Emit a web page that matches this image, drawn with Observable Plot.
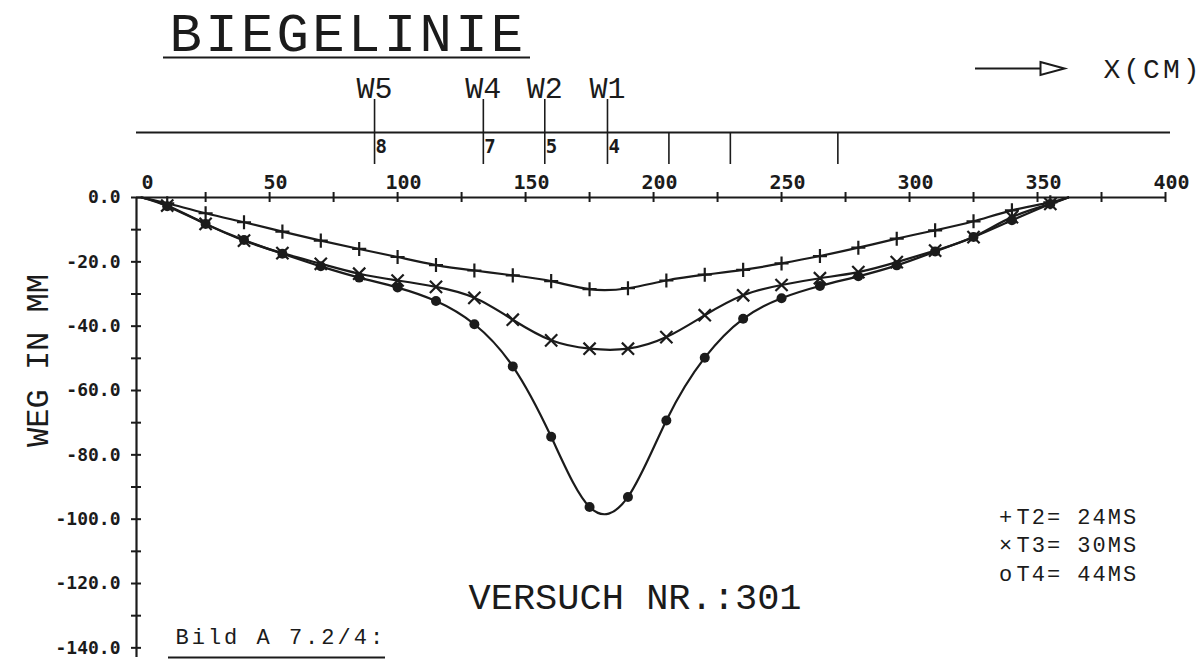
<!DOCTYPE html>
<html>
<head>
<meta charset="utf-8">
<script src="https://cdn.jsdelivr.net/npm/d3@7"></script>
<script src="https://cdn.jsdelivr.net/npm/@observablehq/plot@0.6"></script>
<style>
  html, body { margin: 0; padding: 0; background: #fff; }
  #chart { width: 1203px; height: 660px; overflow: hidden; }
</style>
</head>
<body>
<div id="chart"></div>
<script>
// ---------------- data ----------------
const titleText = "BIEGELINIE";
const xUnitText = "X(CM)";
const yLabelText = "WEG IN MM";
const testText = "VERSUCH NR.:301";
const figureText = "Bild A 7.2/4:";

// measuring positions along the beam (cm)
const xPos = [10, 25, 40, 55, 70, 85, 100, 115, 130, 145, 160, 175,
              190, 205, 220, 235, 250, 265, 280, 295, 310, 325, 340, 355];
// support points (start / end of the deflection line)
const xStart = 0;
const xEnd = 362;

// deflection (mm)
const t2 = [-1.8, -4.9, -7.7, -10.6, -13.4, -16.0, -18.5, -21.0, -22.7, -24.2, -26.0, -28.5,
            -28.2, -25.8, -24.0, -22.5, -20.5, -18.2, -15.6, -12.8, -10.2, -7.4, -4.0, -1.5];
const t3 = [-2.5, -8.2, -13.4, -17.3, -20.6, -23.7, -25.8, -27.8, -31.2, -38.0, -44.4, -47.0,
            -47.0, -43.4, -36.6, -30.4, -27.2, -25.1, -23.2, -20.1, -16.5, -12.3, -6.1, -2.0];
const t4 = [-2.7, -8.2, -13.2, -17.5, -21.4, -24.9, -28.0, -32.2, -39.4, -52.5, -74.4, -96.2,
            -93.1, -69.3, -49.8, -37.7, -31.3, -27.5, -24.5, -21.1, -16.8, -12.3, -7.1, -2.0];

const seriesNames = ["T2= 24MS", "T3= 30MS", "T4= 44MS"];
const legendSymbols = ["+", "×", "o"];

// axes
const xTicks = [25, 50, 75, 100, 125, 150, 175, 200, 225, 250, 275, 300, 325, 350, 375, 400];
const xTickLabels = [0, 50, 100, 150, 200, 250, 300, 350, 400];
const yTicks = [0, -10, -20, -30, -40, -50, -60, -70, -80, -90, -100, -110, -120, -130, -140];
const yTickLabels = [0, -20, -40, -60, -80, -100, -120, -140];

// sensors (top scale)
const sensorNames = ["W5", "W4", "W2", "W1"];
const sensorX = [91, 133.5, 157.5, 182];
const sensorChannels = ["8", "7", "5", "4"];
const extraSensorX = [206, 230, 272];

// ---------------- table ----------------
const seriesValues = [t2, t3, t4];
const rows = [];
seriesValues.forEach((vals, s) => {
  rows.push({series: seriesNames[s], x: xStart, y: 0, marker: false});
  xPos.forEach((x, i) => rows.push({series: seriesNames[s], x, y: vals[i], marker: true}));
  rows.push({series: seriesNames[s], x: xEnd, y: 0, marker: false});
});
const markersOf = s => rows.filter(d => d.marker && d.series === seriesNames[s]);

// ---------------- layout ----------------
const W = 1203, H = 660;
const mL = 136, mR = 38, mT = 197, mB = 3;
const frameW = W - mL - mR, frameH = H - mT - mB;
const ink = "#1b1b1b";
const plotFont = "'Liberation Mono', 'DejaVu Sans Mono', monospace";
const tickFont = "'DejaVu Sans Mono', monospace";

const arrowHead = {
  draw(ctx) { ctx.moveTo(-12, -6.5); ctx.lineTo(12, 0); ctx.lineTo(-12, 6.5); ctx.closePath(); }
};

const ann = (text, o) => Plot.text([text], {
  frameAnchor: "top-left", text: d => d, lineAnchor: "bottom", textAnchor: "start",
  fill: ink, fontFamily: plotFont, ...o
});

const chart = Plot.plot({
  width: W, height: H,
  marginLeft: mL, marginRight: mR, marginTop: mT, marginBottom: mB,
  x: {domain: [-2, 400], axis: null},
  y: {domain: [-143, 0], axis: null},
  style: {background: "white", color: ink, overflow: "visible"},
  marks: [
    // main axes
    Plot.ruleY([0], {stroke: ink, strokeWidth: 2.2}),
    Plot.ruleX([-2], {stroke: ink, strokeWidth: 2.2}),
    Plot.ruleX(xTicks, {x: d => d, stroke: ink, strokeWidth: 2, insetTop: -5, insetBottom: frameH - 5}),
    Plot.ruleY(yTicks, {y: d => d, stroke: ink, strokeWidth: 2, insetLeft: -5, insetRight: frameW - 5}),
    Plot.text(xTickLabels, {x: d => d, text: d => String(d), frameAnchor: "top", lineAnchor: "bottom",
      dy: -9, dx: 6, fontFamily: tickFont, fontWeight: "bold", fontSize: 20, fill: ink}),
    Plot.text(yTickLabels, {y: d => d, text: d => d.toFixed(1), frameAnchor: "left", textAnchor: "end",
      dx: -16, fontFamily: tickFont, fontWeight: "bold", fontSize: 18, fill: ink}),

    // sensor scale at the top
    Plot.ruleY([0], {dy: -65, insetRight: -5, stroke: ink, strokeWidth: 2}),
    Plot.ruleX(sensorX, {x: d => d, insetTop: -98, insetBottom: frameH + 33, stroke: ink, strokeWidth: 1.6}),
    Plot.ruleX(extraSensorX, {x: d => d, insetTop: -65, insetBottom: frameH + 33, stroke: ink, strokeWidth: 1.6}),
    Plot.text(sensorNames, {x: (d, i) => sensorX[i], text: d => d, frameAnchor: "top", lineAnchor: "bottom",
      dy: -100, fontFamily: plotFont, fontSize: 30, fill: ink}),
    Plot.text(sensorChannels, {x: (d, i) => sensorX[i], text: d => d, frameAnchor: "top", lineAnchor: "bottom",
      textAnchor: "start", dx: 1, dy: -45, fontFamily: tickFont, fontWeight: "bold", fontSize: 19, fill: ink}),

    // deflection lines
    Plot.line(rows, {x: "x", y: "y", z: "series", curve: "natural", stroke: ink, strokeWidth: 2.2}),
    Plot.dot(markersOf(0), {x: "x", y: "y", symbol: "plus", r: 4.6, stroke: ink, strokeWidth: 2.2}),
    Plot.dot(markersOf(1), {x: "x", y: "y", symbol: "times", r: 5.6, stroke: ink, strokeWidth: 2.2}),
    Plot.dot(markersOf(2), {x: "x", y: "y", r: 5, fill: ink, stroke: "none"}),

    // annotations
    ann(titleText, {dx: 33, dy: -147, fontSize: 54}),
    Plot.ruleY([0], {dy: -140, insetLeft: 27, insetRight: 635, stroke: ink, strokeWidth: 2}),
    ann(xUnitText, {dx: 967, dy: -120, fontSize: 28}),
    Plot.ruleY([0], {dy: -129, insetLeft: 839, insetRight: 123, stroke: ink, strokeWidth: 2}),
    Plot.dot([0], {x: null, y: null, frameAnchor: "top-left", dx: 916, dy: -129, symbol: arrowHead, r: 1,
      fill: "white", stroke: ink, strokeWidth: 2}),
    Plot.text([yLabelText], {frameAnchor: "top-left", text: d => d, dx: -111, dy: 163, rotate: -90,
      textAnchor: "middle", fontFamily: plotFont, fontSize: 32, fill: ink}),
    ann(testText, {dx: 332, dy: 411, fontSize: 37}),
    Plot.text([legendSymbols.join("\n")], {frameAnchor: "top-left", text: d => d, dx: 869, dy: 306,
      lineAnchor: "top", textAnchor: "middle", lineHeight: 1.3, fontFamily: plotFont, fontSize: 22, fill: ink}),
    Plot.text([seriesNames.join("\n")], {frameAnchor: "top-left", text: d => d, dx: 880, dy: 306,
      lineAnchor: "top", textAnchor: "start", lineHeight: 1.3, fontFamily: plotFont, fontSize: 22, fill: ink}),
    ann(figureText, {dx: 39, dy: 446, fontSize: 22,
      fontFamily: "'Courier New', 'Liberation Mono', monospace"}),
    Plot.ruleY([0], {dy: 460, insetLeft: 32, insetRight: 780, stroke: ink, strokeWidth: 2})
  ]
});

// letter spacing for the plotter-style annotation texts
const spacing = new Map([[titleText, "3.3px"], [xUnitText, "3px"], [figureText, "3px"]]);
d3.select(chart).selectAll("text").each(function () {
  const t = this.textContent;
  if (spacing.has(t)) this.style.letterSpacing = spacing.get(t);
  else if (t.includes(seriesNames[0])) this.style.letterSpacing = "2px";
});
document.getElementById("chart").appendChild(chart);
</script>
</body>
</html>
